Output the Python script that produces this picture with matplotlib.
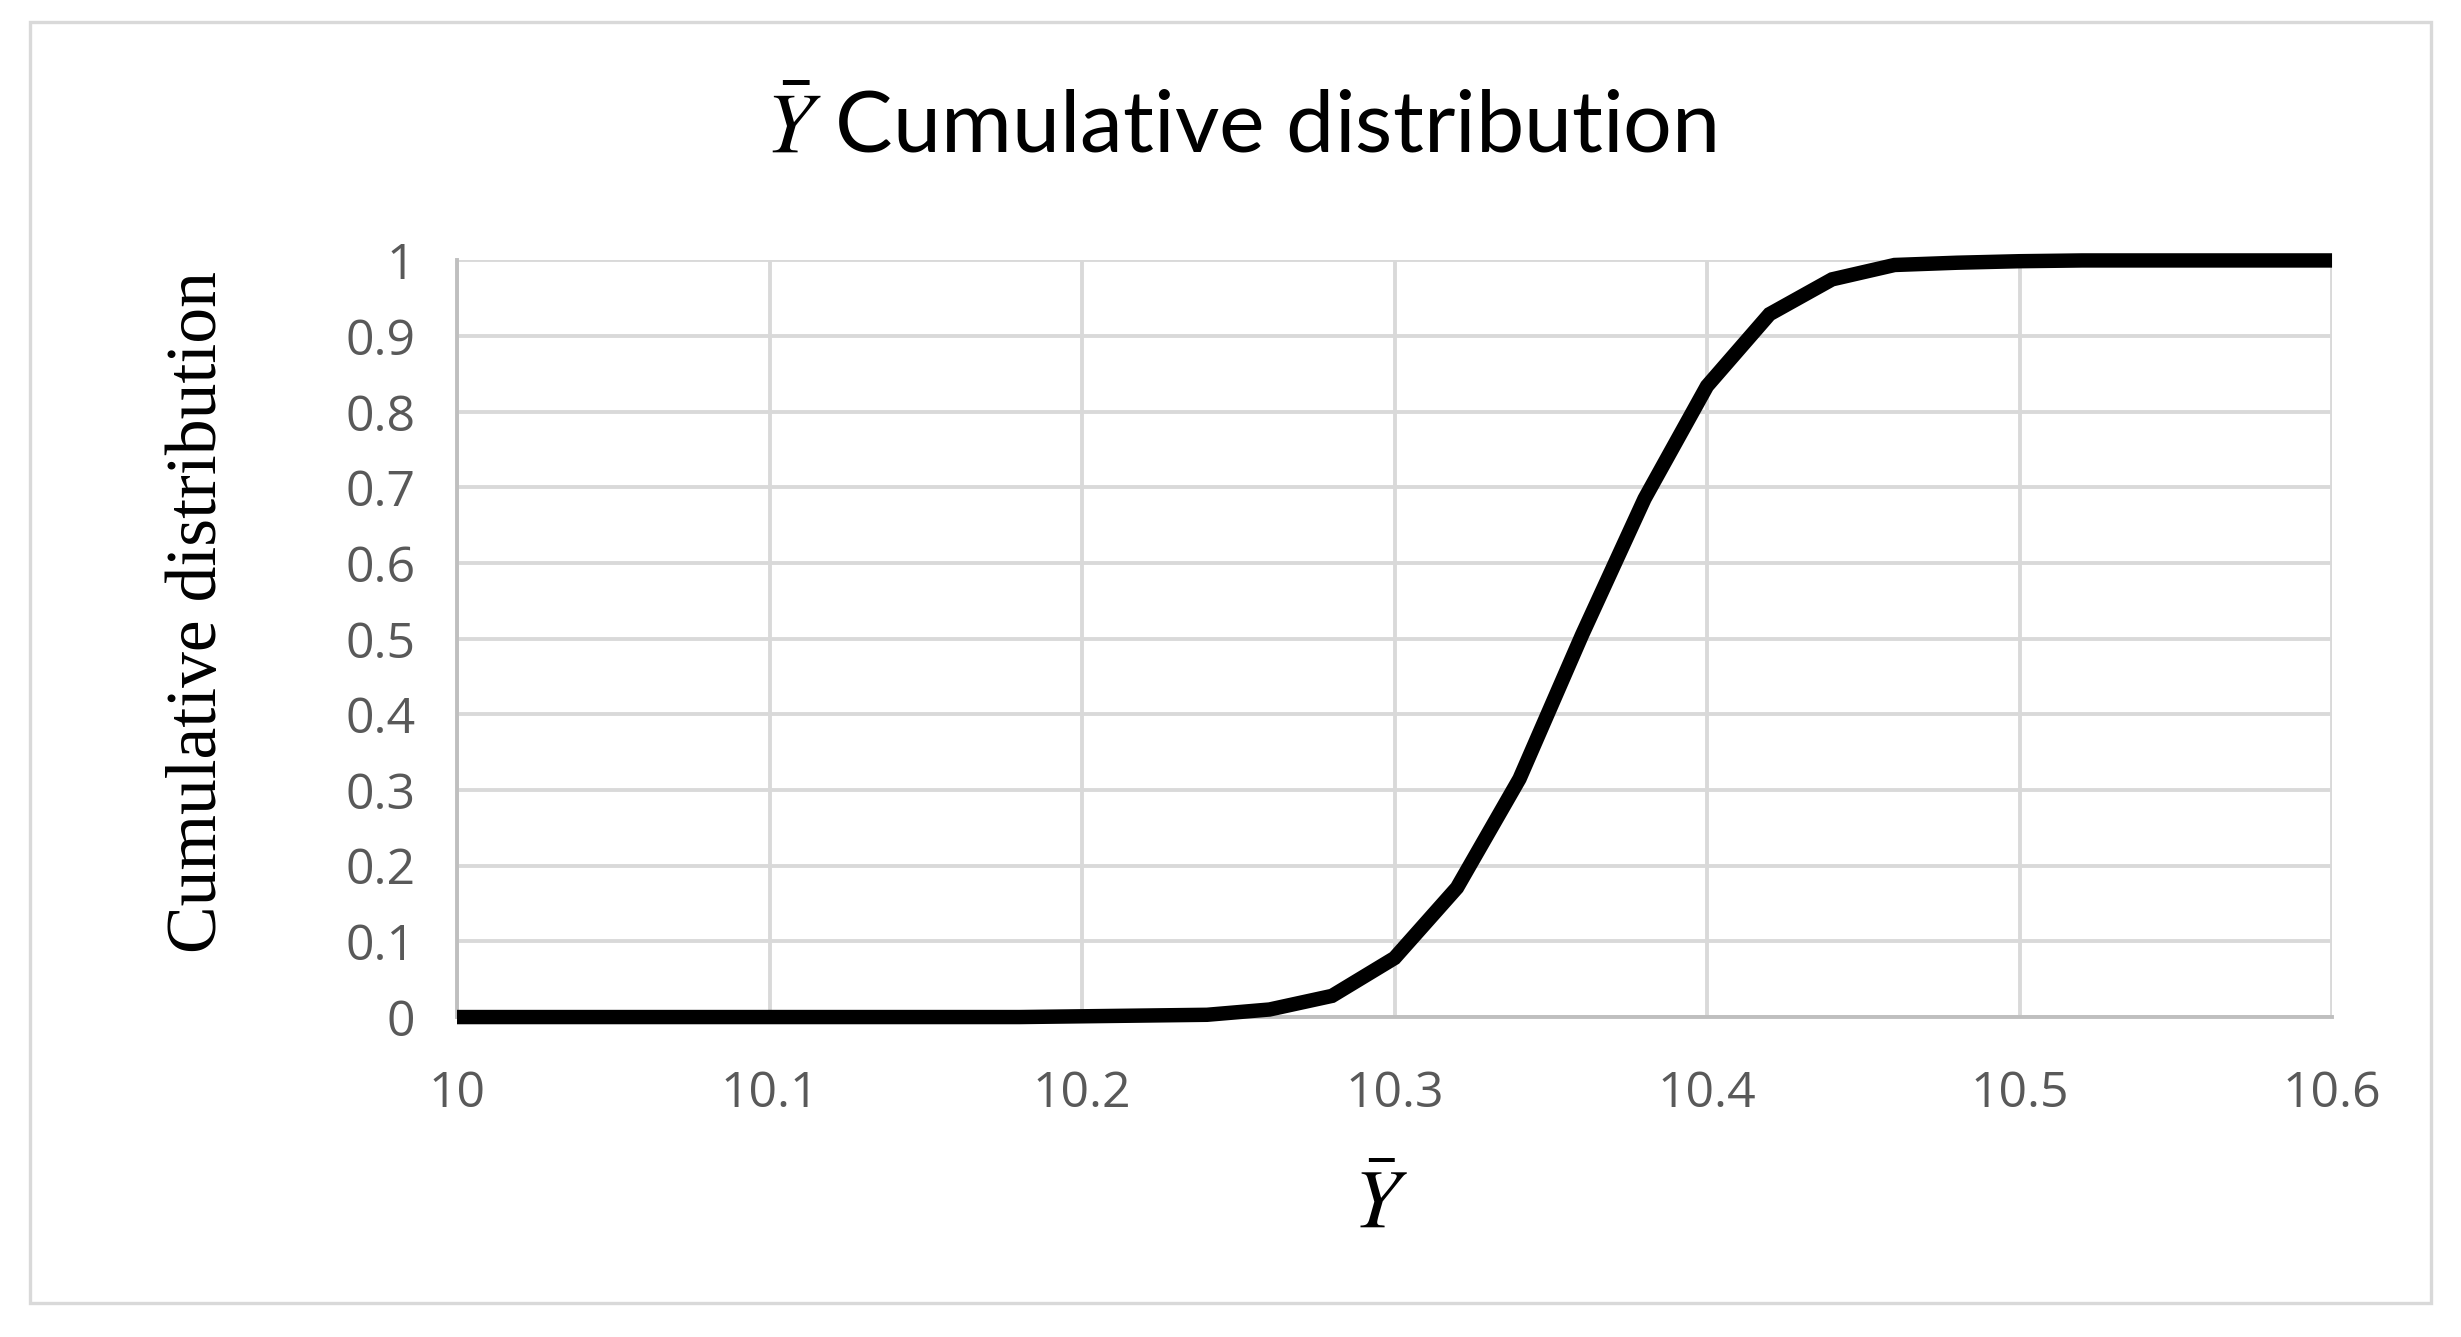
import matplotlib.pyplot as plt
from matplotlib.patches import Rectangle

# Cumulative distribution of Y-bar at 0.02 steps
y_bar = [10.00, 10.02, 10.04, 10.06, 10.08, 10.10, 10.12, 10.14, 10.16, 10.18,
         10.20, 10.22, 10.24, 10.26, 10.28, 10.30, 10.32, 10.34, 10.36, 10.38,
         10.40, 10.42, 10.44, 10.46, 10.48, 10.50, 10.52, 10.54, 10.56, 10.58,
         10.60]
cdf = [0, 0, 0, 0, 0, 0, 0, 0, 0, 0,
       0.001, 0.002, 0.003, 0.010, 0.028, 0.078, 0.171, 0.315, 0.505, 0.685,
       0.834, 0.929, 0.975, 0.994, 0.997, 0.999, 1, 1, 1, 1,
       1]

x_ticks = [10, 10.1, 10.2, 10.3, 10.4, 10.5, 10.6]
x_labels = ["10", "10.1", "10.2", "10.3", "10.4", "10.5", "10.6"]
y_ticks = [0, 0.1, 0.2, 0.3, 0.4, 0.5, 0.6, 0.7, 0.8, 0.9, 1]
y_labels = ["0", "0.1", "0.2", "0.3", "0.4", "0.5", "0.6", "0.7", "0.8", "0.9", "1"]

plt.rcParams['mathtext.fontset'] = 'stix'

fig = plt.figure(figsize=(12.305, 6.685), dpi=200)
ax = fig.add_axes([0.1857, 0.2393, 0.7619, 0.5659])

ax.plot(y_bar, cdf, color="black", lw=5.2, solid_joinstyle="miter",
        solid_capstyle="butt", clip_on=False, zorder=3)

ax.set_xlim(10, 10.6)
ax.set_ylim(0, 1)
ax.set_xticks(x_ticks)
ax.set_xticklabels(x_labels)
ax.set_yticks(y_ticks)
ax.set_yticklabels(y_labels)
ax.tick_params(length=0, labelsize=18, labelcolor="#595959")
ax.tick_params(axis="y", pad=15)
ax.tick_params(axis="x", pad=19)
for lab in ax.get_xticklabels() + ax.get_yticklabels():
    lab.set_family("Open Sans")

ax.grid(True, color="#d9d9d9", lw=1.4)
for side in ["top", "right"]:
    ax.spines[side].set_visible(False)
for side in ["left", "bottom"]:
    ax.spines[side].set_color("#bfbfbf")
    ax.spines[side].set_linewidth(1.4)

fig.text(0.504, 0.904, r"$\bar{Y}$ Cumulative distribution", ha="center", va="center",
         fontsize=31, family="Lato", color="black")
fig.text(0.0805, 0.542, "Cumulative distribution", rotation=90, ha="center", va="center",
         fontsize=25.8, family="Liberation Serif")
fig.text(0.561, 0.099, r"$\bar{Y}$", ha="center", va="center", fontsize=30)

fig.patches.append(Rectangle((0.0122, 0.0254), 0.9756, 0.958, transform=fig.transFigure,
                             fill=False, edgecolor="#d9d9d9", lw=1.2))

fig.savefig("out.png", dpi=200, facecolor="white")
